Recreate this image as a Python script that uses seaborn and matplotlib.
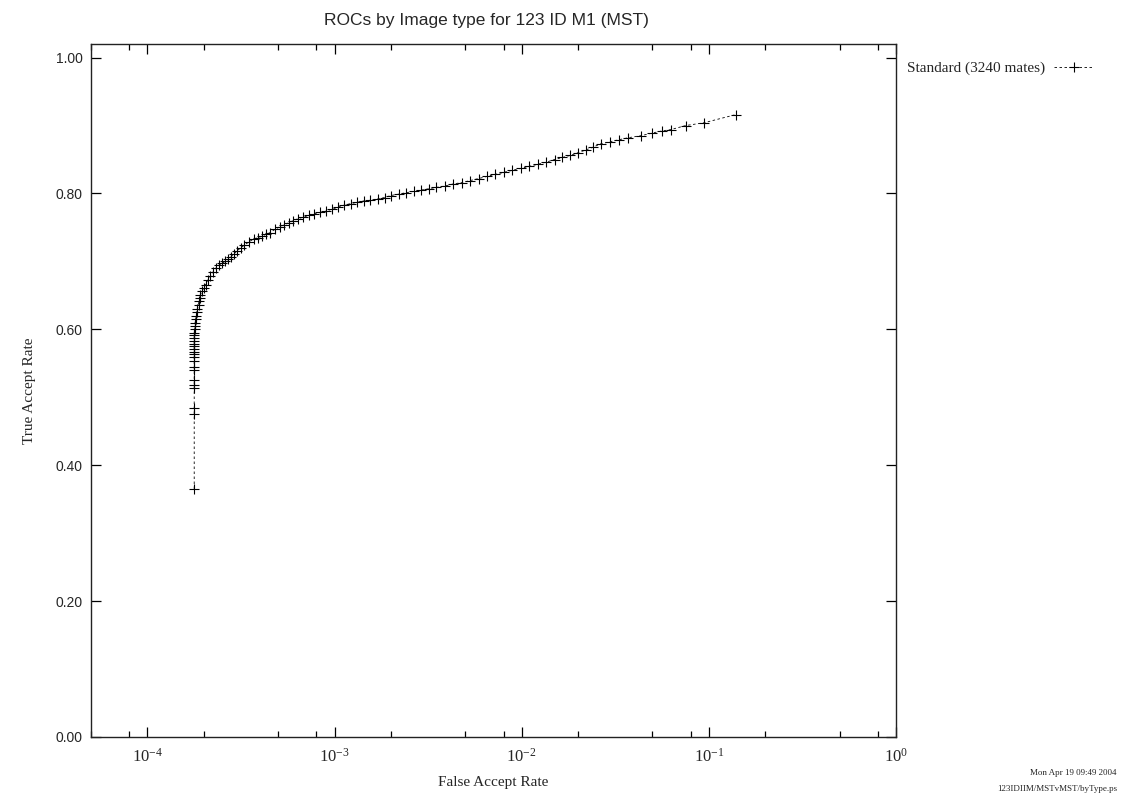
import numpy as np
import pandas as pd
import matplotlib
matplotlib.use("Agg")
import matplotlib.pyplot as plt
import matplotlib.ticker as mticker
import seaborn as sns

# ROC points (false accept rate, true accept rate)
far = [1.78e-4, 1.78e-4, 1.78e-4, 1.78e-4, 1.78e-4, 1.78e-4, 1.78e-4, 1.78e-4,
       1.78e-4, 1.78e-4, 1.78e-4, 1.78e-4, 1.78e-4, 1.78e-4, 1.78e-4, 1.78e-4,
       1.78e-4, 1.78e-4, 1.78e-4, 1.80e-4, 1.80e-4, 1.80e-4, 1.82e-4, 1.82e-4,
       1.85e-4, 1.85e-4, 1.88e-4, 1.88e-4, 1.92e-4, 1.92e-4, 1.96e-4, 2.0e-4,
       2.05e-4, 2.1e-4, 2.17e-4, 2.25e-4, 2.32e-4, 2.4e-4, 2.5e-4, 2.6e-4,
       2.7e-4, 2.8e-4, 2.9e-4, 3.0e-4, 3.15e-4, 3.3e-4, 3.5e-4, 3.7e-4,
       3.9e-4, 4.1e-4, 4.3e-4, 4.5e-4, 4.8e-4, 5.1e-4, 5.4e-4, 5.7e-4,
       6.0e-4, 6.4e-4, 6.8e-4, 7.3e-4, 7.8e-4, 8.4e-4, 9.0e-4, 9.7e-4,
       1.05e-3, 1.13e-3, 1.22e-3, 1.32e-3, 1.43e-3, 1.55e-3, 1.7e-3, 1.85e-3,
       2.0e-3, 2.2e-3, 2.4e-3, 2.65e-3, 2.9e-3, 3.2e-3, 3.5e-3, 3.9e-3,
       4.3e-3, 4.8e-3, 5.3e-3, 5.9e-3, 6.5e-3, 7.2e-3, 8.0e-3, 8.9e-3,
       9.9e-3, 1.1e-2, 1.22e-2, 1.35e-2, 1.5e-2, 1.65e-2, 1.82e-2, 2.0e-2,
       2.2e-2, 2.4e-2, 2.64e-2, 2.95e-2, 3.3e-2, 3.7e-2, 4.33e-2, 5.0e-2,
       5.6e-2, 6.26e-2, 7.53e-2, 9.4e-2, 1.39e-1]
tar = [0.365, 0.476, 0.484, 0.513, 0.518, 0.525, 0.540, 0.544,
       0.553, 0.559, 0.563, 0.567, 0.571, 0.575, 0.579, 0.583,
       0.587, 0.591, 0.595, 0.600, 0.605, 0.610, 0.615, 0.620,
       0.625, 0.630, 0.636, 0.641, 0.646, 0.651, 0.656, 0.661,
       0.666, 0.672, 0.678, 0.685, 0.690, 0.694, 0.697, 0.700,
       0.703, 0.707, 0.711, 0.715, 0.720, 0.724, 0.729, 0.733,
       0.735, 0.737, 0.740, 0.742, 0.747, 0.751, 0.754, 0.757,
       0.760, 0.763, 0.765, 0.768, 0.770, 0.772, 0.774, 0.777,
       0.780, 0.783, 0.785, 0.787, 0.789, 0.790, 0.792, 0.794,
       0.797, 0.799, 0.801, 0.803, 0.805, 0.807, 0.809, 0.811,
       0.814, 0.816, 0.819, 0.822, 0.825, 0.828, 0.831, 0.834,
       0.837, 0.840, 0.843, 0.846, 0.850, 0.853, 0.856, 0.860,
       0.864, 0.868, 0.873, 0.876, 0.879, 0.882, 0.885, 0.889,
       0.892, 0.894, 0.900, 0.904, 0.916]

series_label = "Standard (3240 mates)"
title = "ROCs by Image type for 123 ID M1 (MST)"
stamp_date = "Mon Apr 19 09:49 2004"
stamp_file = "123IDIIM/MSTvMST/byType.ps"

roc = pd.DataFrame({"FAR": far, "TAR": tar})

sns.set_theme(style="ticks")
plt.rcParams["font.family"] = ["Liberation Serif", "DejaVu Serif"]
plt.rcParams["mathtext.fontset"] = "stix"

fig = plt.figure(figsize=(11.26, 7.99), dpi=100)
ax = fig.add_axes([91/1126, 1-737/799, (896-91)/1126, (737-44)/799])

sns.lineplot(data=roc, x="FAR", y="TAR", estimator=None, sort=False,
             color="black", linestyle=(0, (3, 3)), linewidth=0.6,
             marker="+", markersize=7, markeredgewidth=0.8,
             markeredgecolor="black", markerfacecolor="black",
             label=series_label, ax=ax)

ax.set_xscale("log")
ax.set_xlim(5e-5, 1)
ax.set_ylim(0, 1.02)
ax.xaxis.set_major_locator(mticker.LogLocator(base=10, numticks=10))
ax.xaxis.set_minor_locator(mticker.LogLocator(base=10, subs=(2, 5, 8), numticks=10))
ax.xaxis.set_minor_formatter(mticker.NullFormatter())
ax.set_yticks(np.arange(0, 1.01, 0.2))
ax.yaxis.set_major_formatter(mticker.FormatStrFormatter("%.2f"))

ax.tick_params(which="both", direction="in", top=True, right=True, color="black")
ax.tick_params(which="major", length=7, width=0.9)
ax.tick_params(which="minor", length=4, width=0.9)
ax.tick_params(axis="x", labelsize=12, pad=8)
ax.tick_params(axis="y", labelsize=10, pad=6)
for lab in ax.get_yticklabels():
    lab.set_family(["Liberation Sans", "DejaVu Sans"])
for sp in ax.spines.values():
    sp.set_color("#222222")
    sp.set_linewidth(1.0)

ax.set_xlabel("False Accept Rate", fontsize=11, labelpad=7)
ax.set_ylabel("True Accept Rate", fontsize=11, labelpad=14)
fig.text(0.432, 0.984, title, ha="center", va="top", fontsize=12.5,
         family=["Liberation Sans", "DejaVu Sans"])

ax.legend(loc="upper left", bbox_to_anchor=(1.0, 0.99), frameon=False,
          markerfirst=False, fontsize=11, handlelength=2.6,
          borderaxespad=0.3, handletextpad=0.6)

fig.text(0.992, 0.033, stamp_date, ha="right", va="center", fontsize=6.5)
fig.text(0.992, 0.012, stamp_file, ha="right", va="center", fontsize=6.5)

fig.savefig("out.png", dpi=100)
